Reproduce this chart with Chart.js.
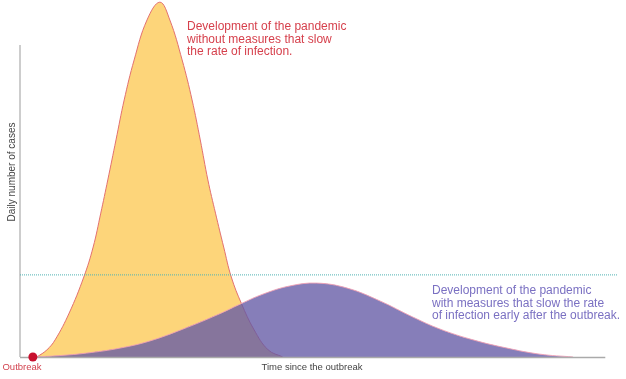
<!DOCTYPE html>
<html>
<head>
<meta charset="utf-8">
<script src="https://cdn.jsdelivr.net/npm/chart.js@4/dist/chart.umd.min.js"></script>
<style>
html,body{margin:0;padding:0;background:#fff;}
#wrap{position:relative;width:626px;height:379px;}
</style>
</head>
<body>
<div id="wrap"><canvas id="c" width="626" height="379"></canvas></div>
<script>
// Time since outbreak (arbitrary units) and daily cases (arbitrary units)
const noMeasuresX = [2.9,4.6,6.0,8.4,10.9,12.5,13.8,15.0,16.4,17.8,19.5,21.7,23.9,25.6,27.7,29.4,30.8,32.1,33.4,34.8,36.1,37.8,40.0,42.4,44.9];
const noMeasuresY = [0,2.0,4.8,12.3,22.4,30.8,40.3,49.6,60.8,72.0,83.2,94.4,99.4,94.4,83.2,72.0,60.8,49.6,40.3,30.8,22.4,15.1,7.6,2.0,0];
const measuresX = [2.2,6.8,11.4,17.1,22.2,27.8,33.7,37.6,41.5,46.1,50.7,55.9,61.5,67.1,71.8,77.4,83.2,88.8,94.5];
const measuresY = [0,0.4,1.1,2.5,4.5,7.8,11.8,14.8,17.6,19.9,20.7,19.3,15.7,11.2,7.8,4.8,2.5,0.8,0];
const capacityLevel = 23.0;     // dotted horizontal line (health-care capacity)
const outbreakX = 2.2;
const xAxisEnd = 100;
const yAxisTop = 87.4;
const xMax = 102, yMax = 100;

const labels = {
  outbreak: "Outbreak",
  xTitle: "Time since the outbreak",
  yTitle: "Daily number of cases",
  noMeasures: ["Development of the pandemic","without measures that slow","the rate of infection."],
  measures: ["Development of the pandemic","with measures that slow the rate","of infection early after the outbreak."]
};

const toPts = (xs, ys) => xs.map((x,i)=>({x, y: ys[i]}));
const FONT = '"Liberation Sans", Arial, Helvetica, sans-serif';

const axesPlugin = {
  id: 'axesAndText',
  beforeDatasetsDraw(chart){
    const {ctx, scales:{x, y}} = chart;
    ctx.save();
    ctx.strokeStyle = '#bdbdbd';
    ctx.lineWidth = 1.5;
    ctx.beginPath();
    ctx.moveTo(x.getPixelForValue(0), y.getPixelForValue(0));
    ctx.lineTo(x.getPixelForValue(0), y.getPixelForValue(yAxisTop));
    ctx.stroke();
    ctx.restore();
  },
  afterDatasetsDraw(chart){
    const {ctx, scales:{x, y}} = chart;
    ctx.save();
    ctx.strokeStyle = '#aaaaaa';
    ctx.lineWidth = 1.5;
    ctx.beginPath();
    ctx.moveTo(x.getPixelForValue(0), y.getPixelForValue(0)+0.5);
    ctx.lineTo(x.getPixelForValue(xAxisEnd), y.getPixelForValue(0)+0.5);
    ctx.stroke();
    // outbreak dot
    ctx.fillStyle = '#c8102e';
    ctx.beginPath();
    ctx.arc(x.getPixelForValue(outbreakX), y.getPixelForValue(0), 4.5, 0, Math.PI*2);
    ctx.fill();
    // texts
    ctx.textBaseline = 'middle';
    ctx.font = '9.5px ' + FONT;
    ctx.fillStyle = '#d2434f';
    ctx.textAlign = 'center';
    ctx.fillText(labels.outbreak, 22, 367);
    ctx.fillStyle = '#444';
    ctx.fillText(labels.xTitle, 312, 367);
    ctx.font = '10px ' + FONT;
    ctx.save();
    ctx.translate(12, 172);
    ctx.rotate(-Math.PI/2);
    ctx.fillText(labels.yTitle, 0, 0);
    ctx.restore();
    ctx.textAlign = 'left';
    ctx.font = '12px ' + FONT;
    ctx.fillStyle = '#d6404c';
    labels.noMeasures.forEach((t,i)=>ctx.fillText(t, 187, 27 + i*12.5));
    ctx.fillStyle = '#7a70c2';
    labels.measures.forEach((t,i)=>ctx.fillText(t, 432, 291 + i*12.5));
    ctx.restore();
  }
};

new Chart(document.getElementById('c'), {
  type: 'line',
  data: {
    datasets: [
      {
        label: 'capacity',
        data: [{x:0,y:capacityLevel},{x:xMax,y:capacityLevel}],
        borderColor: '#4fb3b3',
        borderWidth: 1,
        borderDash: [1,1],
        pointRadius: 0,
        fill: false,
        order: 0
      },
      {
        label: 'with measures',
        data: toPts(measuresX, measuresY),
        borderColor: 'rgba(240,160,180,0.9)',
        borderWidth: 1,
        backgroundColor: 'rgba(100,90,165,0.78)',
        fill: 'origin',
        pointRadius: 0,
        tension: 0.4,
        order: 1
      },
      {
        label: 'without measures',
        data: toPts(noMeasuresX, noMeasuresY),
        borderColor: '#e27070',
        borderWidth: 1,
        backgroundColor: 'rgb(253,213,122)',
        fill: 'origin',
        pointRadius: 0,
        tension: 0.4,
        order: 2
      }
    ]
  },
  options: {
    responsive: false,
    animation: false,
    clip: false,
    layout: { padding: { left: 20, right: 9, top: 0, bottom: 22 } },
    plugins: { legend: { display: false }, tooltip: { enabled: false } },
    scales: {
      x: { type: 'linear', min: 0, max: xMax, display: false },
      y: { type: 'linear', min: 0, max: yMax, display: false }
    }
  },
  plugins: [axesPlugin]
});
</script>
</body>
</html>
